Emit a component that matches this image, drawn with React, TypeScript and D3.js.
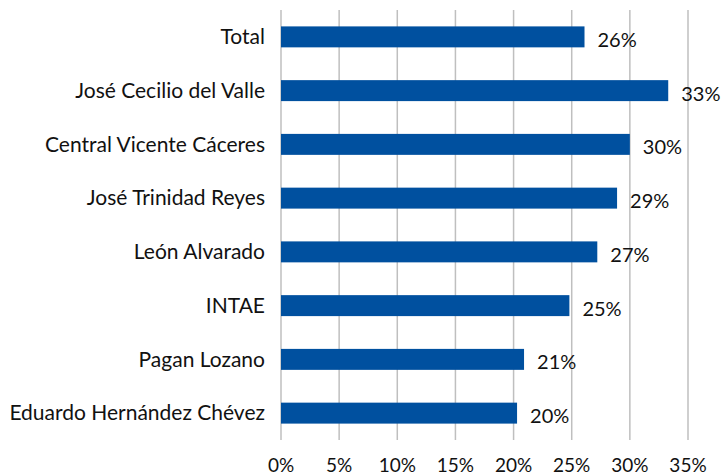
import * as d3 from "d3";

const categories = [
  "Total",
  "José Cecilio del Valle",
  "Central Vicente Cáceres",
  "José Trinidad Reyes",
  "León Alvarado",
  "INTAE",
  "Pagan Lozano",
  "Eduardo Hernández Chévez",
];
const values = [26.1, 33.3, 30.0, 28.9, 27.2, 24.8, 20.9, 20.3];
const labels = ["26%", "33%", "30%", "29%", "27%", "25%", "21%", "20%"];
const ticks = [0, 5, 10, 15, 20, 25, 30, 35];

export default function App() {
  const width = 723;
  const height = 475;
  const left = 281;
  const right = 688;
  const top = 10;
  const bottom = 440;
  const font = "Lato, 'Open Sans', sans-serif";

  const x = d3.scaleLinear().domain([0, 35]).range([left, right]);
  const y = d3
    .scaleBand()
    .domain(categories)
    .range([top, bottom])
    .paddingInner(0.61)
    .paddingOuter(0.305);

  return (
    <svg width={width} height={height} style={{ position: "absolute", left: 0, top: 0, background: "#fff" }}>
      {ticks.map((t) => (
        <g key={t}>
          <line x1={x(t)} x2={x(t)} y1={top} y2={bottom} stroke="#bfbfbf" strokeWidth={1.5} />
          <text x={x(t)} y={472} textAnchor="middle" fontFamily={font} fontSize={19} fill="#111">
            {t + "%"}
          </text>
        </g>
      ))}
      {categories.map((c, i) => (
        <g key={c}>
          <rect x={x(0)} y={y(c)!} width={x(values[i]) - x(0)} height={y.bandwidth()} fill="#00509f" />
          <text
            x={265}
            y={y(c)! + y.bandwidth() / 2}
            dy="0.35em"
            textAnchor="end"
            fontFamily={font}
            fontSize={21}
            fill="#111"
          >
            {c}
          </text>
          <text
            x={x(values[i]) + 13}
            y={y(c)! + y.bandwidth() / 2 + 3}
            dy="0.35em"
            fontFamily={font}
            fontSize={20}
            fill="#111"
          >
            {labels[i]}
          </text>
        </g>
      ))}
    </svg>
  );
}
